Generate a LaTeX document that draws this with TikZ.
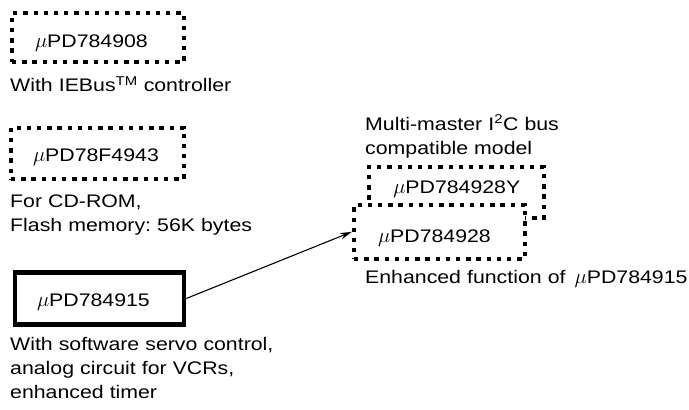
\documentclass[tikz,border=0pt]{standalone}
\usepackage{graphicx}
\usepackage{fontspec}
\setmainfont{Liberation Sans}[FakeStretch=1.17]
\usetikzlibrary{arrows.meta}
\newcommand{\myu}{\scalebox{1.2}{$\mu$}}
\begin{document}
\begin{tikzpicture}[x=1pt,y=-1pt,
  every node/.style={font=\fontsize{18.2}{24}\selectfont\frenchspacing},
  dbox/.style={rectangle, draw, line width=4pt, dash pattern=on 4.3pt off 5.9pt, fill=white, align=left, inner ysep=0pt, text depth=0pt},
  sbox/.style={rectangle, draw, line width=4.5pt, fill=white, align=left, inner ysep=0pt, text depth=0pt},
  lbl/.style={anchor=base west, inner sep=0pt, align=left, text width=330pt},
  conn/.style={line width=1.1pt, -{Stealth[length=12pt,width=6.5pt]}}
]
\useasboundingbox (0,0) rectangle (689,410);
% boxes
\node[dbox, minimum width=172pt, minimum height=49pt, inner xsep=23pt, text width=126pt, text height=19pt] (b1) at (98,37.5) {\myu PD784908};
\node[dbox, minimum width=173pt, minimum height=51.5pt, inner xsep=22pt, text width=129pt, text height=17pt] (b2) at (97.5,153.25) {\myu PD78F4943};
\node[sbox, minimum width=169pt, minimum height=52pt, inner xsep=22pt, text width=125pt, text height=16.4pt] (b3) at (99.5,298.5) {\myu PD784915};
\node[dbox, minimum width=174.5pt, minimum height=51pt, inner xsep=24pt, text width=126pt, text height=1pt] (b4) at (456.25,192.5) {\myu PD784928Y};
\node[dbox, minimum width=171pt, minimum height=53.5pt, inner xsep=24pt, text width=123pt, text height=20.5pt] (b5) at (439.5,231.75) {\myu PD784928};
% labels
\node[lbl] (l1) at (10,91.5) {With IEBus\textsuperscript{TM} controller};
\node[lbl] (l2) at (10,207) {For CD-ROM,\\Flash memory: 56K bytes};
\node[lbl] (l3) at (10,350) {With software servo control,\\analog circuit for VCRs,\\enhanced timer};
\node[lbl] (l4) at (365,130) {Multi-master I\textsuperscript{2}C bus\\compatible model};
\node[lbl] (l5) at (365,283) {Enhanced function of \,\myu PD784915};
% connector
\draw[conn] (b3.east) -- (b5.west);
\end{tikzpicture}
\end{document}
